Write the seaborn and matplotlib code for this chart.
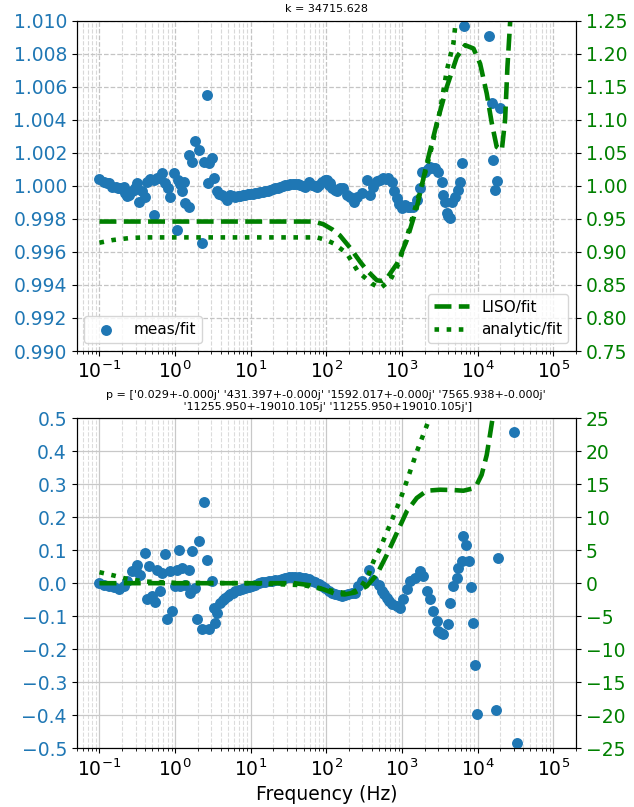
import numpy as np
import matplotlib
matplotlib.use("Agg")
import matplotlib.pyplot as plt
from matplotlib.ticker import FuncFormatter
import seaborn as sns

# ---- magnitude ratio: measurement / fit ----
mag_freq = [0.10, 0.114, 0.125, 0.133, 0.147, 0.163, 0.175, 0.189, 0.209, 0.220,
            0.232, 0.244, 0.270, 0.285, 0.299, 0.314, 0.330, 0.366, 0.405, 0.426,
            0.46, 0.522, 0.53, 0.578, 0.62, 0.673, 0.745, 0.80, 0.867, 0.959,
            1.06, 1.08, 1.15, 1.24, 1.30, 1.37, 1.51, 1.55, 1.67, 1.85,
            2.05, 2.27, 2.39, 2.64, 2.70, 2.78, 3.08, 3.24, 3.58, 3.85,
            4.17, 4.5, 4.85, 5.37, 5.8, 6.25, 6.8, 7.28, 7.9, 8.47,
            9.2, 9.86, 10.7, 11.5, 12.4, 13.4, 14.4, 15.5, 16.8, 18.1,
            19.5, 21.1, 22.8, 24.6, 26.5, 28.6, 31, 33.3, 36, 38.8,
            42, 45.2, 49, 52.6, 58.2, 64.5, 70, 75, 81, 87,
            96.6, 102, 107, 112, 120, 131, 138, 150, 166, 187,
            206, 229, 253, 294, 343, 380, 420, 470, 514, 569,
            615, 663, 734, 773, 855, 920, 995, 1102, 1190, 1283,
            1419, 1570, 1738, 1828, 2023, 2200, 2355, 2550, 2742, 3034,
            3357, 3532, 3715, 3908, 4110, 4325, 4550, 5035, 5570, 5860,
            6300, 6600, 14100, 15350, 16200, 17000, 17800, 19800]
mag_ratio = [1.00040, 1.00026, 1.00020, 1.00016, 0.99996, 0.99996, 0.99990, 0.99986, 0.99996, 0.99956,
             0.99940, 0.99945, 0.99966, 0.99975, 0.99986, 1.00016, 0.99905, 0.99966, 0.99935, 1.00026,
             1.00040, 0.99824, 1.00036, 1.00046, 1.00050, 1.00077, 1.00016, 0.99990, 0.99935, 1.00077,
             0.99733, 1.00036, 1.00010, 0.99966, 1.00026, 0.99895, 0.99875, 1.00188, 1.00147, 1.00269,
             1.00218, 0.99653, 1.00147, 1.00551, 1.00016, 1.00137, 1.00168, 1.00046, 0.99966, 0.99950,
             0.99945, 0.99930, 0.99915, 0.99945, 0.99940, 0.99935, 0.99940, 0.99940, 0.99942, 0.99945,
             0.99948, 0.99950, 0.99953, 0.99956, 0.99958, 0.99960, 0.99963, 0.99966, 0.99970, 0.99976,
             0.99980, 0.99986, 0.99990, 0.99996, 1.00000, 1.00006, 1.00008, 1.00010, 1.00011, 1.00012,
             1.00010, 1.00006, 1.00002, 0.99996, 1.00026, 1.00006, 1.00002, 0.99996, 1.00005, 1.00026,
             1.00036, 1.00036, 1.00006, 1.00020, 0.99990, 0.99976, 0.99970, 0.99985, 0.99990, 0.99945,
             0.99933, 0.99905, 0.99935, 0.99956, 1.00036, 0.99945, 0.99996, 1.00030, 1.00036, 1.00046,
             1.00040, 1.00046, 1.00026, 0.99966, 0.99925, 0.99890, 0.99865, 0.99885, 0.99870, 0.99875,
             0.99875, 0.99915, 0.99986, 1.00087, 1.00087, 1.00100, 1.00117, 1.00110, 1.00107, 1.00087,
             1.00026, 0.99945, 0.99905, 0.99834, 0.99820, 0.99804, 0.99905, 0.99935, 0.99976, 1.00026,
             1.00137, 1.00968, 1.00907, 1.00501, 1.00158, 0.99976, 1.00030, 1.00471]

# ---- model magnitude ratios (right axis) ----
liso_mag_freq = [0.1, 1, 10, 68, 91, 120, 151, 207, 280, 344, 466, 550, 630, 857, 1160,
                 1575, 2130, 2890, 3920, 5310, 6840, 8810, 10800, 13200, 15400, 17900,
                 20900, 23100, 24800, 27000, 29000]
liso_mag = [0.946, 0.946, 0.946, 0.946, 0.942, 0.934, 0.925, 0.906, 0.885, 0.872, 0.857, 0.856,
            0.860, 0.882, 0.918, 0.968, 1.034, 1.095, 1.150, 1.195, 1.213, 1.208, 1.185, 1.140,
            1.095, 1.059, 1.054, 1.100, 1.180, 1.250, 1.320]
analytic_mag_freq = [0.1, 0.15, 0.25, 0.38, 10, 75, 100, 124, 186, 263, 400, 515, 698, 900,
                     1100, 1420, 1920, 2480, 3200, 3920, 4790, 5030, 5600]
analytic_mag = [0.914, 0.918, 0.921, 0.922, 0.922, 0.922, 0.918, 0.913, 0.898, 0.870, 0.852,
                0.845, 0.857, 0.882, 0.913, 0.958, 1.009, 1.059, 1.115, 1.175, 1.216, 1.239, 1.270]

# ---- phase difference: measurement - fit ----
ph_freq = [0.10, 0.114, 0.133, 0.155, 0.18, 0.21, 0.23, 0.27, 0.30, 0.314,
           0.348, 0.397, 0.426, 0.448, 0.495, 0.55, 0.575, 0.64, 0.673, 0.745,
           0.78, 0.867, 0.91, 1.0, 1.06, 1.12, 1.17, 1.24, 1.37, 1.51,
           1.59, 1.67, 1.85, 1.95, 2.09, 2.27, 2.39, 2.64, 2.78, 3.08,
           3.24, 3.4, 3.58, 3.96, 4.3, 4.61, 5.0, 5.37, 5.8, 6.25,
           6.9, 7.66, 8.5, 9.4, 10.4, 11.5, 12.8, 14.1, 15.6, 17.2,
           19.0, 21.1, 23.4, 25.9, 28.7, 31.7, 35.1, 38.8, 43, 47.5,
           52.6, 58.2, 64.5, 71.3, 79, 87.3, 96.6, 107, 118, 131,
           145, 160, 178, 196, 217, 240, 265, 294, 361, 420,
           490, 541, 585, 631, 680, 734, 855, 946, 1047, 1159,
           1283, 1493, 1738, 1923, 2133, 2360, 2610, 2884, 3034, 3300,
           3532, 4110, 4325, 4786, 5296, 5570, 6166, 6486, 7046, 7786,
           8110, 8630, 9250, 9930, 17380, 18840, 30300, 32900]
ph_diff = [0.001, -0.004, -0.009, -0.011, -0.017, -0.007, 0.006, 0.036, 0.036, 0.056,
           0.026, 0.091, -0.049, 0.051, -0.039, -0.057, 0.041, -0.024, 0.031, 0.087,
           -0.109, 0.036, -0.084, -0.009, 0.041, 0.102, -0.009, 0.046, -0.004, 0.041,
           -0.029, 0.097, -0.014, -0.109, 0.127, -0.140, 0.245, 0.069, -0.140, 0.006,
           -0.074, -0.120, -0.089, -0.059, -0.050, -0.044, -0.039, -0.034, -0.029, -0.024,
           -0.020, -0.017, -0.014, -0.011, -0.007, -0.004, 0.000, 0.003, 0.005, 0.006,
           0.008, 0.009, 0.011, 0.013, 0.016, 0.019, 0.019, 0.019, 0.018, 0.016,
           0.015, 0.013, 0.008, 0.003, -0.003, -0.009, -0.014, -0.024, -0.029, -0.034,
           -0.037, -0.039, -0.037, -0.034, -0.031, -0.029, -0.010, 0.006, 0.041, 0.011,
           -0.004, -0.024, -0.034, -0.044, -0.054, -0.064, -0.069, -0.074, -0.049, -0.019,
           0.006, 0.016, 0.036, 0.021, -0.024, -0.049, -0.084, -0.114, -0.145, -0.150,
           -0.155, -0.125, -0.059, -0.009, 0.016, 0.046, 0.066, 0.142, 0.117, 0.066,
           -0.012, -0.120, -0.248, -0.395, -0.384, 0.075, 0.457, -0.484]

# ---- model phase differences in degrees (right axis) ----
liso_ph_freq = [0.1, 1, 10, 38, 60, 90, 130, 175, 240, 343, 465, 631, 855, 1159, 1570,
                2128, 3190, 4790, 6490, 8360, 9730, 11300, 13200, 14600, 15800, 17000]
liso_ph = [0.0, 0.0, 0.0, 0.0, -0.3, -0.9, -1.6, -1.7, -1.4, -0.45, 1.3, 4.3, 7.6, 10.9,
           12.9, 14.0, 14.15, 14.1, 14.0, 14.3, 14.9, 16.4, 19.4, 22.5, 25.0, 28.0]
analytic_ph_freq = [0.1, 0.155, 0.23, 0.4, 1, 10, 50, 100, 200, 280, 361, 420, 514, 697,
                    946, 1219, 1570, 2020, 2610]
analytic_ph = [1.66, 1.16, 0.65, 0.25, 0.05, 0.0, -0.3, -1.0, -1.6, -0.8, 1.3, 3.3, 5.3,
               8.9, 12.6, 16.2, 19.9, 23.2, 26.5]

k_title = "k = 34715.628"
p_title = ("p = ['0.029+-0.000j' '431.397+-0.000j' '1592.017+-0.000j' '7565.938+-0.000j'\n"
           " '11255.950+-19010.105j' '11255.950+19010.105j']")

BLUE = "#1f77b4"
GREEN = "#008000"

sns.set_style("ticks", rc={
    "axes.edgecolor": "black",
    "text.color": "black",
    "axes.labelcolor": "black",
    "xtick.color": "black",
    "ytick.color": "black",
    "axes.linewidth": 1.0,
    "xtick.major.size": 3.5,
    "ytick.major.size": 3.5,
    "xtick.minor.size": 2.0,
    "xtick.major.width": 0.8,
    "ytick.major.width": 0.8,
})
plt.rcParams["font.family"] = ["DejaVu Sans"]

fig, (ax_m, ax_p) = plt.subplots(2, 1, figsize=(6.34, 8.07), dpi=100)
fig.subplots_adjust(left=0.121, right=0.9085, top=0.9743, bottom=0.0727, hspace=0.203)

LW = 3.3
TICK_FS = 13.5


def minus_fmt(fmt):
    # format tick values with a proper typographic minus sign
    return FuncFormatter(lambda v, pos: (fmt % v).replace("-", "\u2212"))


def style_axes(ax, ax2, ylim, n, yfmt, ylim2, yfmt2):
    ax.set_xscale("log")
    ax.set_xlim(0.05, 2e5)
    ax.set_ylim(*ylim)
    ax.set_yticks(np.linspace(ylim[0], ylim[1], n))
    ax.yaxis.set_major_formatter(minus_fmt(yfmt))
    ax2.set_ylim(*ylim2)
    ax2.set_yticks(np.linspace(ylim2[0], ylim2[1], n))
    ax2.yaxis.set_major_formatter(minus_fmt(yfmt2))
    ax.tick_params(axis="y", labelcolor=BLUE, labelsize=TICK_FS)
    ax.tick_params(axis="x", labelsize=TICK_FS)
    ax2.tick_params(axis="y", labelcolor=GREEN, labelsize=TICK_FS)
    ax.set_xlabel("")
    ax.set_ylabel("")
    ax2.set_ylabel("")


# ---------------- magnitude panel ----------------
ax_m2 = ax_m.twinx()
sns.scatterplot(x=mag_freq, y=mag_ratio, ax=ax_m, color=BLUE, s=62, linewidth=0,
                label="meas/fit", zorder=3)
sns.lineplot(x=liso_mag_freq, y=liso_mag, ax=ax_m2, color=GREEN, lw=LW, ls="--",
             label="LISO/fit", sort=False)
sns.lineplot(x=analytic_mag_freq, y=analytic_mag, ax=ax_m2, color=GREEN, lw=LW, ls=":",
             label="analytic/fit", sort=False)
style_axes(ax_m, ax_m2, (0.99, 1.01), 11, "%.3f", (0.75, 1.25), "%.2f")
ax_m.grid(True, which="major", ls="--", color="#c4c4c4", lw=0.9)
ax_m.grid(True, which="minor", ls="--", color="#d8d8d8", lw=0.8)
ax_m.legend(loc="lower left", fontsize=11)
ax_m2.legend(loc="lower right", fontsize=11, handlelength=2.3)
ax_m.set_title(k_title, fontsize=8)

# ---------------- phase panel ----------------
ax_p2 = ax_p.twinx()
sns.scatterplot(x=ph_freq, y=ph_diff, ax=ax_p, color=BLUE, s=62, linewidth=0, zorder=3)
sns.lineplot(x=liso_ph_freq, y=liso_ph, ax=ax_p2, color=GREEN, lw=LW, ls="--",
             sort=False, legend=False)
sns.lineplot(x=analytic_ph_freq, y=analytic_ph, ax=ax_p2, color=GREEN, lw=LW, ls=":",
             sort=False, legend=False)
style_axes(ax_p, ax_p2, (-0.5, 0.5), 11, "%.1f", (-25, 25), "%.0f")
ax_p.grid(True, which="major", ls="-", color="#c8c8c8", lw=0.9)
ax_p.grid(True, which="minor", ls="--", color="#dcdcdc", lw=0.8)
ax_p.set_title(p_title, fontsize=8)
ax_p.set_xlabel("Frequency (Hz)", fontsize=13.5)

fig.savefig("out.png", dpi=100)
